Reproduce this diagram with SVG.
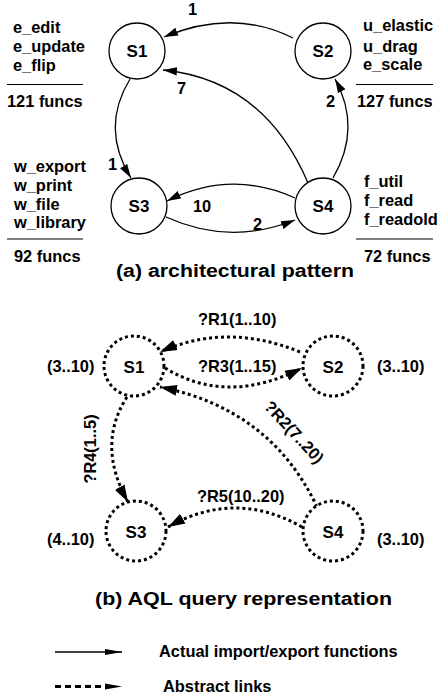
<svg xmlns="http://www.w3.org/2000/svg" width="439" height="700" viewBox="0 0 439 700">
<defs>
<style>
text{font-family:"Liberation Sans",Arial,sans-serif;font-weight:bold;fill:#000}
.lab{font-size:16.4px}
.node{font-size:17px;text-anchor:middle}
.title{font-size:18px}
.sn{fill:#fff;stroke:#000;stroke-width:1.3}
.dn{fill:#fff;stroke:#000;stroke-width:3;stroke-dasharray:3 3}
.se{fill:none;stroke:#000;stroke-width:1.3}
.de{fill:none;stroke:#000;stroke-width:3;stroke-dasharray:3 3}
.rule{stroke:#000;stroke-width:1}
</style>
<marker id="a" markerUnits="userSpaceOnUse" markerWidth="14" markerHeight="10" viewBox="0 0 14 10" refX="14" refY="5" orient="auto"><path d="M0,0.8 L14,5 L0,9.2 Z" fill="#000"/></marker>
<marker id="ad" markerUnits="userSpaceOnUse" markerWidth="17" markerHeight="12" viewBox="0 0 17 12" refX="17" refY="6" orient="auto"><path d="M0,0.5 L17,6 L0,11.5 Z" fill="#000"/></marker>
<marker id="al" markerUnits="userSpaceOnUse" markerWidth="17" markerHeight="8" viewBox="0 0 17 8" refX="17" refY="4" orient="auto"><path d="M0,1 L17,4 L0,7 Z" fill="#000"/></marker>
</defs>

<g id="connectors">
<path class="se" d="M293,38 Q233,8 164,37" marker-end="url(#a)"/>
<path class="se" d="M308,183 Q264,80 163,70" marker-end="url(#a)"/>
<path class="se" d="M130,79 Q100,128 131,178" marker-end="url(#a)"/>
<path class="se" d="M295,198 Q231,169 167,201" marker-end="url(#a)"/>
<path class="se" d="M166,217 Q230,246 295,220" marker-end="url(#a)"/>
<path class="se" d="M333,178 Q362,128 335,79" marker-end="url(#a)"/>

<path class="de" d="M300,352 Q227,322 160,352" marker-end="url(#ad)"/>
<path class="de" d="M165,368 Q227,406 302,368" marker-end="url(#ad)"/>
<path class="de" d="M317,507 Q271,409 160,387" marker-end="url(#ad)"/>
<path class="de" d="M127,397 Q96,445 128,502" marker-end="url(#ad)"/>
<path class="de" d="M302,527 Q235,489 168,527" marker-end="url(#ad)"/>

<path class="se" d="M55,652 H122" marker-end="url(#al)"/>
<path fill="none" stroke="#000" stroke-width="3" stroke-dasharray="6 4" d="M55,686.5 H104"/>
<path fill="none" stroke="none" d="M100,686.5 H122" marker-end="url(#al)"/>
</g>

<g id="a-S1"><circle class="sn" cx="137" cy="51" r="28"/><text class="node" x="137" y="57">S1</text></g>
<g id="a-S2"><circle class="sn" cx="323" cy="51" r="28"/><text class="node" x="323" y="57">S2</text></g>
<g id="a-S3"><circle class="sn" cx="139" cy="206" r="28"/><text class="node" x="139" y="212">S3</text></g>
<g id="a-S4"><circle class="sn" cx="323" cy="206" r="28"/><text class="node" x="323" y="212">S4</text></g>

<g id="a-edge-labels">
<text class="lab" x="188" y="15">1</text>
<text class="lab" x="177" y="94">7</text>
<text class="lab" x="108" y="170">1</text>
<text class="lab" x="193" y="212">10</text>
<text class="lab" x="253" y="230">2</text>
<text class="lab" x="326" y="107">2</text>
</g>

<g id="a-S1-info">
<text class="lab" x="13" y="33">e_edit</text>
<text class="lab" x="13" y="52">e_update</text>
<text class="lab" x="13" y="71">e_flip</text>
<line class="rule" x1="7" y1="84.5" x2="83" y2="84.5"/>
<text class="lab" x="7" y="107">121 funcs</text>
</g>
<g id="a-S2-info">
<text class="lab" x="363" y="31">u_elastic</text>
<text class="lab" x="363" y="52">u_drag</text>
<text class="lab" x="363" y="70">e_scale</text>
<line class="rule" x1="356" y1="84.5" x2="433" y2="84.5"/>
<text class="lab" x="357" y="107">127 funcs</text>
</g>
<g id="a-S3-info">
<text class="lab" x="14" y="172">w_export</text>
<text class="lab" x="14" y="191">w_print</text>
<text class="lab" x="14" y="210">w_file</text>
<text class="lab" x="14" y="228">w_library</text>
<line class="rule" x1="7" y1="239" x2="83" y2="239"/>
<text class="lab" x="14" y="262">92 funcs</text>
</g>
<g id="a-S4-info">
<text class="lab" x="364" y="187">f_util</text>
<text class="lab" x="364" y="206">f_read</text>
<text class="lab" x="364" y="225">f_readold</text>
<line class="rule" x1="356" y1="239" x2="433" y2="239"/>
<text class="lab" x="364" y="262">72 funcs</text>
</g>
<text class="title" x="116" y="277" textLength="238" lengthAdjust="spacingAndGlyphs">(a) architectural pattern</text>

<g id="b-S1"><circle class="dn" cx="134" cy="366" r="30"/><text class="node" x="134" y="373">S1</text></g>
<g id="b-S2"><circle class="dn" cx="333" cy="366" r="30"/><text class="node" x="333" y="373">S2</text></g>
<g id="b-S3"><circle class="dn" cx="136" cy="531" r="30"/><text class="node" x="136" y="538">S3</text></g>
<g id="b-S4"><circle class="dn" cx="333" cy="531" r="30"/><text class="node" x="333" y="538">S4</text></g>

<g id="b-labels">
<text class="lab" x="47" y="372">(3..10)</text>
<text class="lab" x="377" y="372">(3..10)</text>
<text class="lab" x="47" y="545">(4..10)</text>
<text class="lab" x="377" y="545">(3..10)</text>
<text class="lab" x="198" y="325">?R1(1..10)</text>
<text class="lab" x="198" y="372">?R3(1..15)</text>
<text class="lab" x="197" y="502">?R5(10..20)</text>
<text class="lab" text-anchor="middle" transform="translate(96,449) rotate(-90)">?R4(1..5)</text>
<text class="lab" text-anchor="middle" transform="translate(290,436) rotate(47)">?R2(7..20)</text>
</g>
<text class="title" x="95" y="605" textLength="297" lengthAdjust="spacingAndGlyphs">(b) AQL query representation</text>

<g id="legend">
<text class="lab" x="159" y="657">Actual import/export functions</text>
<text class="lab" x="163" y="692">Abstract links</text>
</g>
</svg>
